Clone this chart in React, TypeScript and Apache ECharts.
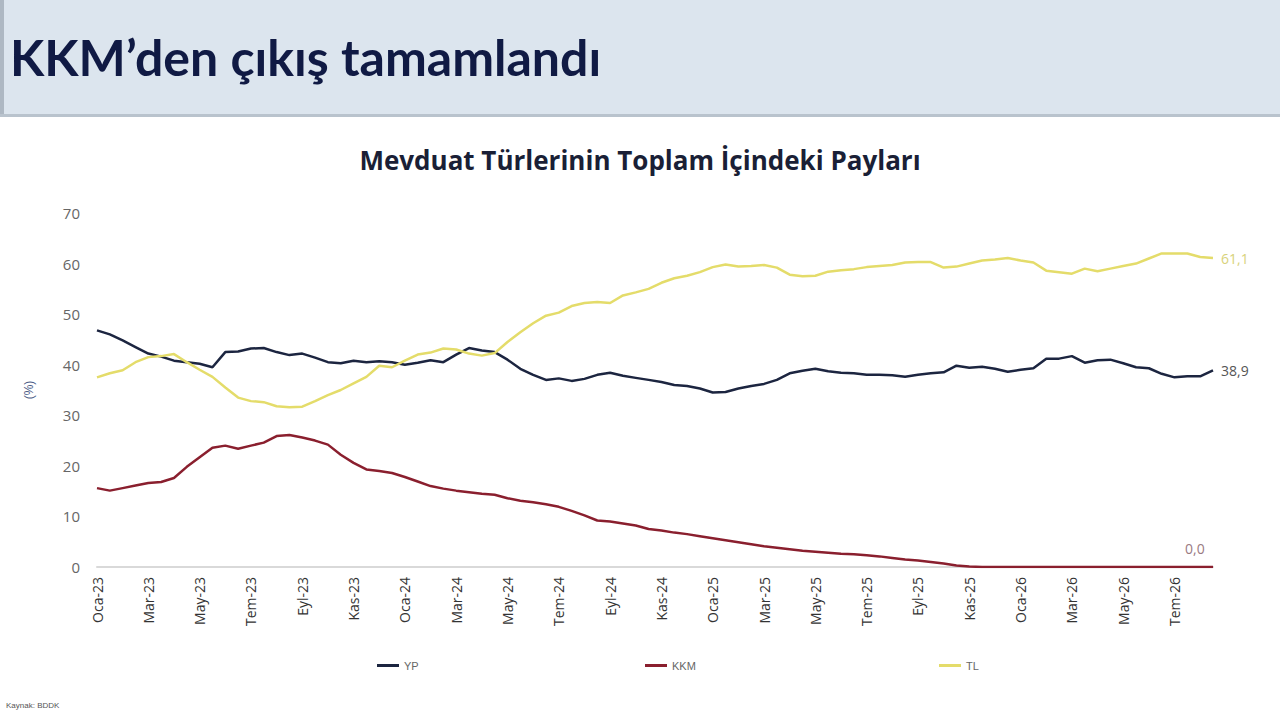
import React, { useEffect, useRef } from "react";
import * as echarts from "echarts";

const tickLabels = [
  "Oca-23", "Mar-23", "May-23", "Tem-23", "Eyl-23", "Kas-23",
  "Oca-24", "Mar-24", "May-24", "Tem-24", "Eyl-24", "Kas-24",
  "Oca-25", "Mar-25", "May-25", "Tem-25", "Eyl-25", "Kas-25",
  "Oca-26", "Mar-26", "May-26", "Tem-26",
];

const ypValues = [
  46.8, 46.0, 44.8, 43.5, 42.2, 41.6, 40.8, 40.5, 40.2, 39.5,
  42.5, 42.6, 43.2, 43.3, 42.5, 41.9, 42.2, 41.4, 40.5, 40.3,
  40.8, 40.5, 40.7, 40.5, 40.0, 40.4, 40.9, 40.5, 42.0, 43.3,
  42.8, 42.5, 41.0, 39.2, 38.0, 37.0, 37.3, 36.8, 37.2, 38.0,
  38.4, 37.8, 37.4, 37.0, 36.6, 36.0, 35.8, 35.3, 34.5, 34.6,
  35.3, 35.8, 36.2, 37.0, 38.3, 38.8, 39.2, 38.7, 38.4, 38.3,
  38.0, 38.0, 37.9, 37.6, 38.0, 38.3, 38.5, 39.8, 39.4, 39.6,
  39.2, 38.6, 39.0, 39.3, 41.2, 41.2, 41.7, 40.4, 40.9, 41.0,
  40.3, 39.5, 39.3, 38.2, 37.5, 37.7, 37.7, 38.9,
];

const kkmValues = [
  15.6, 15.1, 15.6, 16.1, 16.6, 16.8, 17.6, 19.8, 21.7, 23.6,
  24.0, 23.4, 24.0, 24.6, 25.9, 26.1, 25.6, 25.0, 24.2, 22.2,
  20.6, 19.3, 19.0, 18.6, 17.8, 16.9, 16.0, 15.5, 15.1, 14.8,
  14.5, 14.3, 13.6, 13.1, 12.8, 12.4, 11.9, 11.1, 10.2, 9.2,
  9.0, 8.6, 8.2, 7.5, 7.2, 6.8, 6.5, 6.1, 5.7, 5.3,
  4.9, 4.5, 4.1, 3.8, 3.5, 3.2, 3.0, 2.8, 2.6, 2.5,
  2.3, 2.1, 1.8, 1.5, 1.3, 1.0, 0.7, 0.3, 0.1, 0.0,
  0.0, 0.0, 0.0, 0.0, 0.0, 0.0, 0.0, 0.0, 0.0, 0.0,
  0.0, 0.0, 0.0, 0.0, 0.0, 0.0, 0.0, 0.0,
];

const tlValues = [
  37.5, 38.3, 38.9, 40.5, 41.5, 41.7, 42.1, 40.5, 39.0, 37.6,
  35.5, 33.5, 32.8, 32.6, 31.8, 31.6, 31.7, 32.8, 34.0, 35.0,
  36.3, 37.6, 39.8, 39.5, 40.8, 42.0, 42.4, 43.2, 43.0, 42.2,
  41.8, 42.3, 44.5, 46.4, 48.2, 49.7, 50.3, 51.6, 52.2, 52.4,
  52.2, 53.7, 54.3, 55.0, 56.2, 57.1, 57.6, 58.3, 59.3, 59.8,
  59.4, 59.5, 59.7, 59.2, 57.8, 57.5, 57.6, 58.4, 58.7, 58.9,
  59.3, 59.5, 59.7, 60.2, 60.3, 60.3, 59.2, 59.4, 60.0, 60.6,
  60.8, 61.1, 60.6, 60.2, 58.6, 58.3, 58.0, 59.0, 58.5, 59.0,
  59.5, 60.0, 61.0, 62.0, 62.0, 62.0, 61.3, 61.1,
];

const POINTS_PER_TICK = 4;
const categories = ypValues.map((_, i) => String(i));

const YP_COLOR = "#1c2540";
const KKM_COLOR = "#8a1f2e";
const TL_COLOR = "#e4dc6a";

const fmt = (v: number) => v.toFixed(1).replace(".", ",");

export default function App() {
  const ref = useRef<HTMLDivElement>(null);
  useEffect(() => {
    document.body.style.margin = "0";
    const chart = echarts.init(ref.current!, null, { renderer: "svg" });
    const legendCommon = {
      bottom: 44,
      itemWidth: 22,
      itemHeight: 3,
      itemGap: 4,
      icon: "rect",
      textStyle: { color: "#666", fontSize: 11, fontFamily: "Liberation Sans" },
    };
    chart.setOption({
      animation: false,
      backgroundColor: "#ffffff",
      graphic: [
        { type: "rect", shape: { x: 0, y: 0, width: 1280, height: 114 }, style: { fill: "#dce5ee" } },
        { type: "rect", shape: { x: 0, y: 114, width: 1280, height: 3 }, style: { fill: "#b9c3cd" } },
        { type: "rect", shape: { x: 0, y: 0, width: 4, height: 114 }, style: { fill: "#aeb8c3" } },
        {
          type: "text",
          left: 10,
          top: 32,
          style: {
            text: "KKM’den çıkış tamamlandı",
            font: "bold 50px Lato",
            fill: "#101a44",
          },
        },
        {
          type: "text",
          left: 6,
          top: 701,
          style: { text: "Kaynak: BDDK", font: "8px Liberation Sans", fill: "#555" },
        },
      ],
      title: {
        text: "Mevduat Türlerinin Toplam İçindeki Payları",
        left: "center",
        top: 142,
        textStyle: { fontFamily: "Open Sans", fontWeight: "bold", fontSize: 26, color: "#1a1f36" },
      },
      legend: [
        { ...legendCommon, left: 372, data: ["YP"] },
        { ...legendCommon, left: 640, data: ["KKM"] },
        { ...legendCommon, left: 934, data: ["TL"] },
      ],
      grid: { left: 97, right: 67, top: 213, bottom: 153 },
      xAxis: {
        type: "category",
        data: categories,
        boundaryGap: false,
        axisLine: { lineStyle: { color: "#d9d9d9", width: 2 } },
        axisTick: { show: false },
        axisLabel: {
          interval: (idx: number) => idx % POINTS_PER_TICK === 0,
          formatter: (_v: string, idx: number) => tickLabels[idx / POINTS_PER_TICK] ?? "",
          rotate: 90,
          color: "#333",
          fontSize: 14,
          fontFamily: "Open Sans",
          margin: 10,
        },
      },
      yAxis: {
        type: "value",
        min: 0,
        max: 70,
        interval: 10,
        name: "(%)",
        nameLocation: "middle",
        nameGap: 62,
        nameTextStyle: { color: "#4a5a85", fontSize: 12, fontFamily: "Liberation Sans" },
        axisLine: { show: false },
        axisTick: { show: false },
        splitLine: { show: false },
        axisLabel: { color: "#666", fontSize: 15, fontFamily: "Open Sans", margin: 17 },
      },
      series: [
        {
          name: "YP",
          type: "line",
          data: ypValues,
          showSymbol: false,
          symbol: "none",
          lineStyle: { color: YP_COLOR, width: 2.5 },
          itemStyle: { color: YP_COLOR },
          endLabel: {
            show: true,
            formatter: (p: any) => fmt(p.value),
            color: "#555",
            fontSize: 14,
            fontFamily: "Open Sans",
            distance: 8,
          },
        },
        {
          name: "KKM",
          type: "line",
          data: kkmValues,
          showSymbol: false,
          symbol: "none",
          lineStyle: { color: KKM_COLOR, width: 2.5 },
          itemStyle: { color: KKM_COLOR },
          endLabel: {
            show: true,
            formatter: (p: any) => fmt(p.value),
            color: "#9a7a82",
            fontSize: 14,
            fontFamily: "Open Sans",
            offset: [-36, -19],
          },
        },
        {
          name: "TL",
          type: "line",
          data: tlValues,
          showSymbol: false,
          symbol: "none",
          lineStyle: { color: TL_COLOR, width: 2.5 },
          itemStyle: { color: TL_COLOR },
          endLabel: {
            show: true,
            formatter: (p: any) => fmt(p.value),
            color: "#d8d27a",
            fontSize: 14,
            fontFamily: "Open Sans",
            distance: 8,
          },
        },
      ],
    });
    return () => chart.dispose();
  }, []);
  return <div ref={ref} style={{ width: 1280, height: 720 }} />;
}
